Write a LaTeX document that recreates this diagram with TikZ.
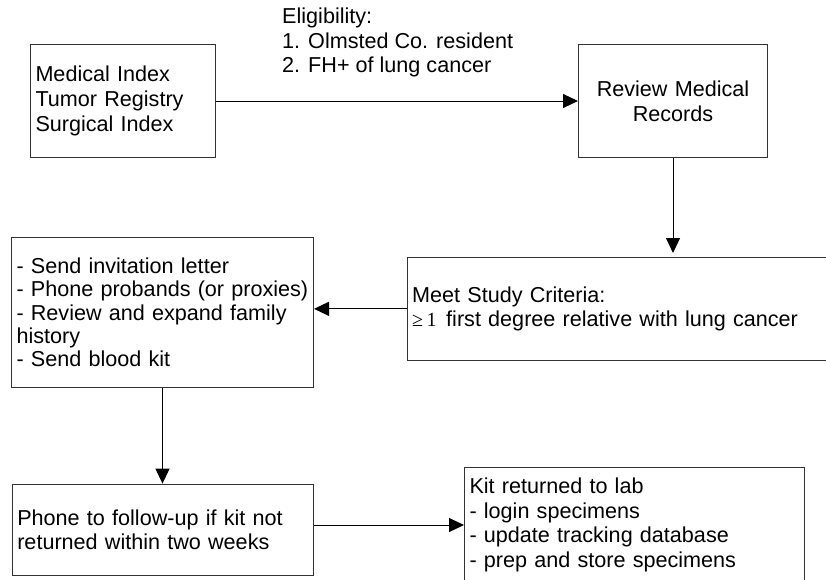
\documentclass[tikz,border=0pt]{standalone}
\usepackage{fontspec}
\setmainfont{Liberation Sans}
\newfontfamily\timesface{Liberation Serif}
\usetikzlibrary{arrows.meta}
\begin{document}
\begin{tikzpicture}[x=1pt,y=-1pt,
  box/.style={draw=black!80, line width=1pt, anchor=north west,
    inner xsep=5pt, inner ysep=0pt, align=left,
    font=\fontsize{21.6}{24.6}\selectfont},
  flow/.style={draw=black, line width=1pt,
    -{Triangle[length=15pt,width=14pt]}}]
\useasboundingbox (0,0) rectangle (826,579);
\fill[white] (0,0) rectangle (826,579);

% data sources
\node[box, text width=175pt, minimum height=113pt] (src) at (30,44)
  {Medical Index\\Tumor Registry\\Surgical Index};

% eligibility label over the first connector
\node[anchor=west, inner sep=0pt, align=left,
  font=\fontsize{21.6}{24.5}\selectfont] (elig) at (282,42.5)
  {Eligibility:\\1. Olmsted Co. resident\\2. FH+ of lung cancer};

% record review
\node[box, align=center, text width=179pt, minimum height=113pt] (rev) at (578,44)
  {Review Medical\\Records};

% study criteria (runs past the right margin)
\node[box, text width=423pt, minimum height=103.3pt] (meet) at (406.7,256.7)
  {Meet Study Criteria:\\{\timesface\fontsize{20}{24.6}\selectfont ≥\,1}\hspace{0.45em}first degree relative with lung cancer};

% contact steps
\node[box, text width=292pt, minimum height=150.3pt,
  font=\fontsize{21.6}{23.4}\selectfont] (inv) at (11,236.7)
  {- Send invitation letter\\- Phone probands (or proxies)\\- Review and expand family\\history\\- Send blood kit};

% follow-up
\node[box, text width=291pt, minimum height=91.4pt] (phone) at (11.8,483.6)
  {Phone to follow-up if kit not\\returned within two weeks};

% lab handling (runs past the bottom margin)
\node[box, text width=330pt, minimum height=115pt] (kit) at (464,467)
  {Kit returned to lab\\- login specimens\\- update tracking database\\- prep and store specimens};

% connectors
\draw[flow] (src.east) -- (rev.west);
\draw[flow, shorten >=3.7pt] (rev.south) -- (rev.south |- meet.north);
\draw[flow] (meet.west) -- (meet.west -| inv.east);
\draw[flow] (inv.south) -- (inv.south |- phone.north);
\draw[flow] (phone.east |- kit.west) -- (kit.west);
\end{tikzpicture}
\end{document}
